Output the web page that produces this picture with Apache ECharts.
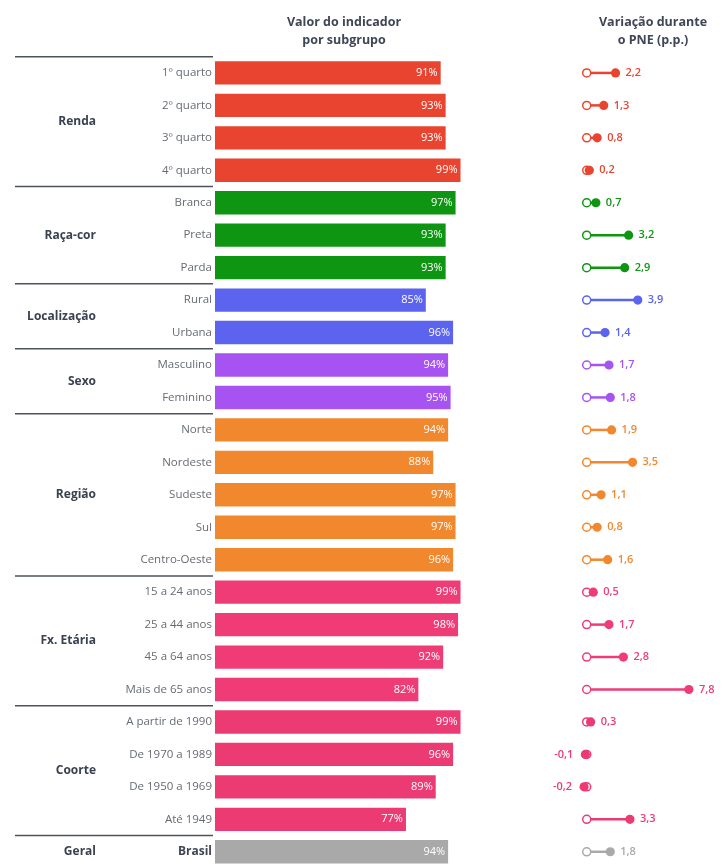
<!DOCTYPE html>
<html>
<head>
<meta charset="utf-8">
<script src="https://cdn.jsdelivr.net/npm/echarts@6/dist/echarts.min.js"></script>
<style>
  html, body { margin: 0; padding: 0; background: #ffffff; }
  #chart { width: 723px; height: 868px; }
</style>
</head>
<body>
<div id="chart"></div>
<script>
  var categories = ['1º quarto', '2º quarto', '3º quarto', '4º quarto',
    'Branca', 'Preta', 'Parda',
    'Rural', 'Urbana',
    'Masculino', 'Feminino',
    'Norte', 'Nordeste', 'Sudeste', 'Sul', 'Centro-Oeste',
    '15 a 24 anos', '25 a 44 anos', '45 a 64 anos', 'Mais de 65 anos',
    'A partir de 1990', 'De 1970 a 1989', 'De 1950 a 1969', 'Até 1949',
    'Brasil'];
  var indicador = [91, 93, 93, 99, 97, 93, 93, 85, 96, 94, 95, 94, 88, 97, 97, 96, 99, 98, 92, 82, 99, 96, 89, 77, 94];
  var variacao = [2.2, 1.3, 0.8, 0.2, 0.7, 3.2, 2.9, 3.9, 1.4, 1.7, 1.8, 1.9, 3.5, 1.1, 0.8, 1.6, 0.5, 1.7, 2.8, 7.8, 0.3, -0.1, -0.2, 3.3, 1.8];
  var grupos = ['Renda', 'Raça-cor', 'Localização', 'Sexo', 'Região', 'Fx. Etária', 'Coorte', 'Geral'];
  var tamanhoGrupo = [4, 3, 2, 2, 5, 4, 4, 1];
  var coresGrupo = ['#e8442f', '#0e9612', '#5b63ef', '#a653f2', '#f2882e', '#ef3c76', '#ec3a72', '#a9a9a9'];

  var fonte = '"Open Sans", sans-serif';

  // cor de cada linha e dados dos grupos
  var corLinha = [];
  var dadosGrupo = [];
  var inicio = 0;
  grupos.forEach(function (g, k) {
    dadosGrupo.push([0, inicio, tamanhoGrupo[k], g]);
    for (var j = 0; j < tamanhoGrupo[k]; j++) corLinha.push(coresGrupo[k]);
    inicio += tamanhoGrupo[k];
  });

  function fmt (v) {
    return v.toFixed(1).replace('.', ',');
  }

  var chart = echarts.init(document.getElementById('chart'));

  var option = {
    animation: false,
    textStyle: { fontFamily: fonte },
    title: [
      {
        text: 'Valor do indicador\npor subgrupo',
        left: 339, top: 8, textAlign: 'center',
        textStyle: { fontSize: 12.5, fontWeight: 'bold', color: '#3f4655', lineHeight: 18, fontFamily: fonte }
      },
      {
        text: 'Variação durante\no PNE (p.p.)',
        left: 648, top: 8, textAlign: 'center',
        textStyle: { fontSize: 12.5, fontWeight: 'bold', color: '#3f4655', lineHeight: 18, fontFamily: fonte }
      }
    ],
    grid: [
      { left: 215, width: 248, top: 56.7, height: 814.5 },
      { left: 573.6, width: 144.1, top: 56.7, height: 814.5 }
    ],
    xAxis: [
      { gridIndex: 0, type: 'value', min: 0, max: 100, show: false },
      { gridIndex: 1, type: 'value', min: -1, max: 10, show: false }
    ],
    yAxis: [
      {
        gridIndex: 0, type: 'category', data: categories, inverse: true,
        axisLine: { show: false }, axisTick: { show: false },
        axisLabel: {
          margin: 3, fontSize: 11.5, color: '#666b73', fontFamily: fonte,
          formatter: function (v) { return v === 'Brasil' ? '{b|' + v + '}' : v; },
          rich: { b: { fontWeight: 'bold', color: '#3f4655', fontSize: 12, fontFamily: fonte } }
        }
      },
      { gridIndex: 1, type: 'category', data: categories, inverse: true, show: false }
    ],
    series: [
      {
        type: 'bar',
        xAxisIndex: 0, yAxisIndex: 0,
        barCategoryGap: '28%',
        data: indicador.map(function (v, i) {
          return { value: v, itemStyle: { color: corLinha[i] } };
        }),
        label: {
          show: true, position: 'insideRight', distance: 3,
          color: '#ffffff', fontSize: 11, fontFamily: fonte,
          formatter: '{c}%'
        }
      },
      {
        // rótulos dos grupos e linhas separadoras
        type: 'custom',
        xAxisIndex: 0, yAxisIndex: 0,
        data: dadosGrupo,
        encode: { x: 0, y: 1 },
        silent: true,
        renderItem: function (params, api) {
          var ini = api.value(1), n = api.value(2);
          var p = api.coord([0, ini]);
          var h = api.size([0, 1])[1];
          var topo = p[1] - h / 2;
          var meio = topo + n * h / 2;
          return {
            type: 'group',
            children: [
              { type: 'line', shape: { x1: 15, y1: topo, x2: 213, y2: topo },
                style: { stroke: '#4d535c', lineWidth: 1.5 } },
              { type: 'text', style: {
                  text: dadosGrupo[params.dataIndex][3], x: 96, y: meio,
                  align: 'right', verticalAlign: 'middle',
                  fill: '#3a4150', font: 'bold 12px ' + fonte } }
            ]
          };
        }
      },
      {
        // halteres da variação
        type: 'custom',
        xAxisIndex: 1, yAxisIndex: 1,
        data: variacao.map(function (v, i) { return [v, i]; }),
        encode: { x: 0, y: 1 },
        silent: true,
        renderItem: function (params, api) {
          var v = api.value(0), i = api.value(1);
          var p0 = api.coord([0, i]);
          var p1 = api.coord([v, i]);
          var c = corLinha[i];
          return {
            type: 'group',
            children: [
              { type: 'line', shape: { x1: p0[0], y1: p0[1], x2: p1[0], y2: p1[1] },
                style: { stroke: c, lineWidth: 2.5 } },
              { type: 'circle', shape: { cx: p0[0], cy: p0[1], r: 4 },
                style: { fill: '#ffffff', stroke: c, lineWidth: 1.5 } },
              { type: 'circle', shape: { cx: p1[0], cy: p1[1], r: 4.6 },
                style: { fill: c } },
              { type: 'text', style: {
                  text: fmt(v), x: v < 0 ? p1[0] - 12 : p1[0] + 10, y: p1[1],
                  align: v < 0 ? 'right' : 'left', verticalAlign: 'middle',
                  fill: c, font: '600 11px ' + fonte } }
            ]
          };
        }
      }
    ]
  };

  chart.setOption(option);
</script>
</body>
</html>
